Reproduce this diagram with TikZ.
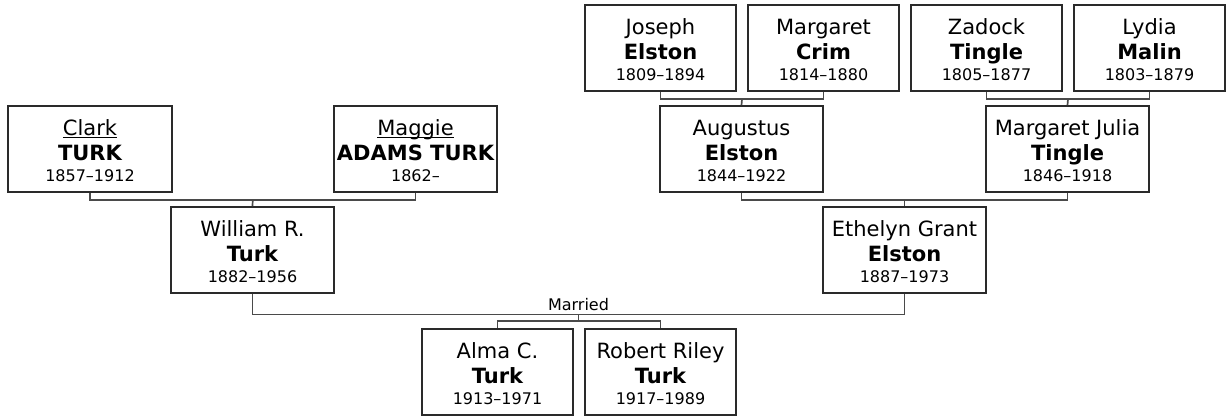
\documentclass[tikz,border=0pt]{standalone}
\usepackage{fontspec}
\setmainfont{DejaVu Sans}
\usetikzlibrary{calc}
\definecolor{boxline}{HTML}{2A2A2A}
\definecolor{connline}{HTML}{4A4A4A}
\newcommand\fixedul[1]{\setbox0\hbox{#1}\rlap{\rule[-3pt]{\wd0}{1.3pt}}\box0}
\tikzset{
  pbox/.style={draw=boxline, line width=1.8pt, rectangle, inner sep=0pt, minimum height=86pt, fill=white},
  nm/.style={anchor=base, inner sep=0pt, font=\fontsize{21}{24}\selectfont},
  sn/.style={anchor=base, inner sep=0pt, font=\fontsize{21}{24}\selectfont\bfseries},
  dt/.style={anchor=base, inner sep=0pt, font=\fontsize{16}{19}\selectfont},
  conn/.style={draw=connline, line width=1.7pt},
  lbl/.style={anchor=base, inner sep=0pt, font=\fontsize{16}{19}\selectfont}
}
\newcommand\person[7]{%
  \node[pbox, minimum width=#4pt] (#1) at (#2,#3) {};
  \node[nm] (#1-a) at ($(#1.north)+(0,30)$) {#5};
  \node[sn] (#1-b) at ($(#1.north)+(0,55)$) {#6};
  \node[dt] (#1-c) at ($(#1.north)+(0,76)$) {#7};
}
\begin{document}
\begin{tikzpicture}[x=1pt,y=-1pt]
\useasboundingbox (0,0) rectangle (1227,418);
% generation 1
\person{joseph}{660.5}{48}{151}{Joseph}{Elston}{1809–1894}
\person{mcrim}{823.5}{48}{151}{Margaret}{Crim}{1814–1880}
\person{zadock}{986.5}{48}{151}{Zadock}{Tingle}{1805–1877}
\person{lydia}{1149.5}{48}{151}{Lydia}{Malin}{1803–1879}
% generation 2
\person{clark}{90}{149}{164}{\fixedul{Clark}}{TURK}{1857–1912}
\person{maggie}{415.5}{149}{163}{\fixedul{Maggie}}{ADAMS TURK}{1862–}
\person{augustus}{741.5}{149}{163}{Augustus}{Elston}{1844–1922}
\person{mjulia}{1067.5}{149}{163}{Margaret Julia}{Tingle}{1846–1918}
% generation 3
\person{william}{252.5}{250}{163}{William R.}{Turk}{1882–1956}
\person{ethelyn}{904.5}{250}{163}{Ethelyn Grant}{Elston}{1887–1973}
% children
\person{alma}{497.5}{372}{151}{Alma C.}{Turk}{1913–1971}
\person{robert}{660.5}{372}{151}{Robert Riley}{Turk}{1917–1989}
% connectors
\coordinate (jm) at ($(joseph.south)!0.5!(mcrim.south)+(0,7)$);
\draw[conn] (joseph.south) |- (jm) -| (mcrim.south);
\draw[conn] (jm) -- (augustus.north);
\coordinate (zl) at ($(zadock.south)!0.5!(lydia.south)+(0,7)$);
\draw[conn] (zadock.south) |- (zl) -| (lydia.south);
\draw[conn] (zl) -- (mjulia.north);
\coordinate (cm) at ($(clark.south)!0.5!(maggie.south)+(0,7)$);
\draw[conn] (clark.south) |- (cm) -| (maggie.south);
\draw[conn] (cm) -- (william.north);
\coordinate (am) at ($(augustus.south)!0.5!(mjulia.south)+(0,7)$);
\draw[conn] (augustus.south) |- (am) -| (mjulia.south);
\draw[conn] (am) -- (ethelyn.north);
\coordinate (mar) at ($(william.south)!0.5!(ethelyn.south)+(0,20.5)$);
\draw[conn] (william.south) |- (mar) -| (ethelyn.south);
\node[lbl] (married) at ($(mar)+(0,-4)$) {Married};
\coordinate (kids) at ($(alma.north)!0.5!(robert.north)+(0,-7)$);
\draw[conn] (mar) -- (mar |- kids);
\draw[conn] (alma.north) |- (kids) -| (robert.north);
\end{tikzpicture}
\end{document}
